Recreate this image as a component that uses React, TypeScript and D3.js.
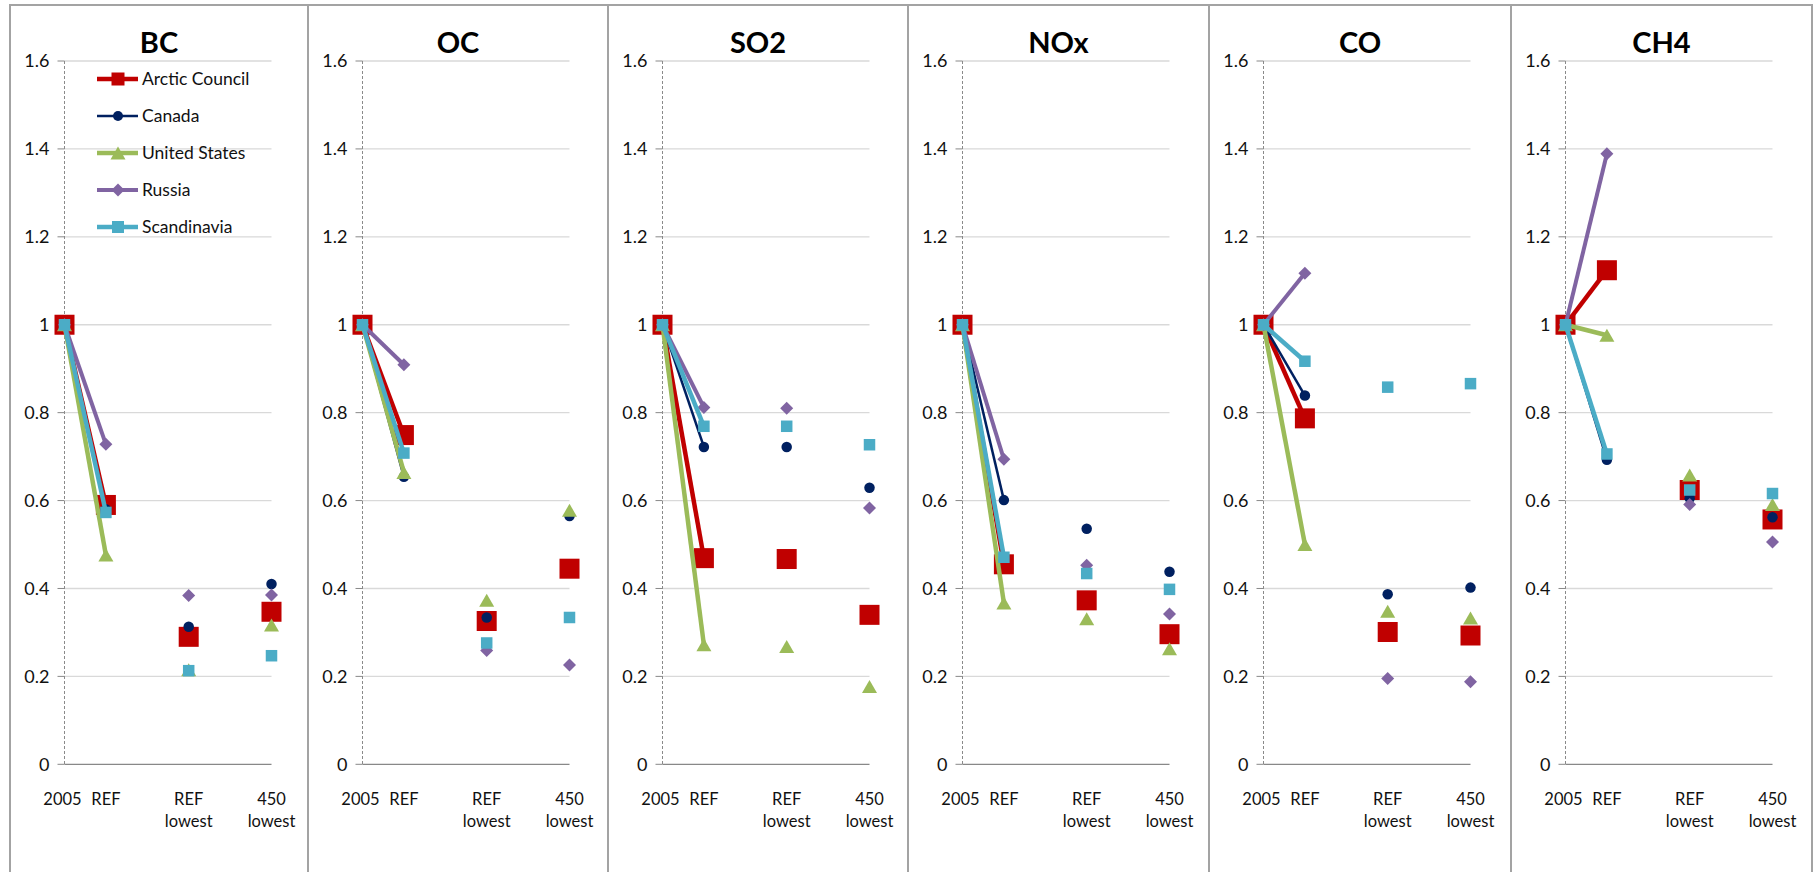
import React from "react";
import * as d3 from "d3";

// Emission ratios relative to 2005, one chart per pollutant
const pollutants = ["BC", "OC", "SO2", "NOx", "CO", "CH4"];
// category slots along the x axis; empty slots break the lines
const categories = ["2005", "REF", "", "REF\nlowest", "", "450\nlowest"];
const valueSlots = [0, 1, 3, 5];
const yTicks = [0, 0.2, 0.4, 0.6, 0.8, 1, 1.2, 1.4, 1.6];

// values per pollutant: [2005, REF, REF lowest, 450 lowest]
const arcticCouncil = [
  [1, 0.59, 0.29, 0.347],
  [1, 0.749, 0.326, 0.445],
  [1, 0.469, 0.467, 0.34],
  [1, 0.455, 0.373, 0.296],
  [1, 0.787, 0.301, 0.293],
  [1, 1.124, 0.624, 0.557],
];
const canada = [
  [1, 0.58, 0.313, 0.41],
  [1, 0.654, 0.334, 0.565],
  [1, 0.722, 0.722, 0.629],
  [1, 0.601, 0.536, 0.438],
  [1, 0.839, 0.387, 0.402],
  [1, 0.693, 0.605, 0.562],
];
const unitedStates = [
  [1, 0.476, 0.215, 0.317],
  [1, 0.664, 0.373, 0.578],
  [1, 0.272, 0.268, 0.177],
  [1, 0.367, 0.331, 0.263],
  [1, 0.5, 0.348, 0.333],
  [1, 0.976, 0.658, 0.591],
];
const russia = [
  [1, 0.728, 0.384, 0.385],
  [1, 0.909, 0.259, 0.226],
  [1, 0.812, 0.81, 0.583],
  [1, 0.694, 0.453, 0.342],
  [1, 1.117, 0.195, 0.188],
  [1, 1.389, 0.591, 0.506],
];
const scandinavia = [
  [1, 0.573, 0.213, 0.247],
  [1, 0.708, 0.276, 0.334],
  [1, 0.769, 0.769, 0.727],
  [1, 0.471, 0.434, 0.398],
  [1, 0.917, 0.858, 0.866],
  [1, 0.706, 0.624, 0.616],
];

type Marker = "square" | "circle" | "triangle" | "diamond";
interface Series {
  name: string;
  values: number[][];
  color: string;
  width: number;
  marker: Marker;
  size: number;
  legendSize: number;
}

const series: Series[] = [
  { name: "Arctic Council", values: arcticCouncil, color: "#C00000", width: 4.5, marker: "square", size: 20, legendSize: 13 },
  { name: "Canada", values: canada, color: "#002060", width: 2.5, marker: "circle", size: 10.5, legendSize: 10 },
  { name: "United States", values: unitedStates, color: "#9BBB59", width: 4.5, marker: "triangle", size: 15, legendSize: 15 },
  { name: "Russia", values: russia, color: "#8064A2", width: 4, marker: "diamond", size: 13, legendSize: 13 },
  { name: "Scandinavia", values: scandinavia, color: "#4BACC6", width: 4.5, marker: "square", size: 11.5, legendSize: 12 },
];

const FONT = "Lato, 'Open Sans', sans-serif";
const panelEdges = [10, 308, 608, 908, 1209, 1511, 1812];
const PANEL_TOP = 5;
const AXIS_OFFSET = 54.5;
const PLOT_WIDTH = 207;

function MarkerShape({ type, x, y, size, color }: { type: Marker; x: number; y: number; size: number; color: string }) {
  const h = size / 2;
  if (type === "square") return <rect x={x - h} y={y - h} width={size} height={size} fill={color} />;
  if (type === "circle") return <circle cx={x} cy={y} r={h} fill={color} />;
  if (type === "triangle") {
    const th = size * 0.87;
    return <path d={`M${x},${y - th / 2}L${x + h},${y + th / 2}L${x - h},${y + th / 2}Z`} fill={color} />;
  }
  return <path d={`M${x},${y - h}L${x + h},${y}L${x},${y + h}L${x - h},${y}Z`} fill={color} />;
}

function Panel({ index }: { index: number }) {
  const left = panelEdges[index];
  const right = panelEdges[index + 1];
  const x0 = left + AXIS_OFFSET;
  const x = d3.scalePoint<number>().domain(d3.range(categories.length)).range([x0, x0 + PLOT_WIDTH]);
  const y = d3.scaleLinear().domain([0, 1.6]).range([764.3, 61]);
  const line = d3
    .line<number | null>()
    .defined((d) => d !== null)
    .x((_, i) => x(i) as number)
    .y((d) => y(d as number));

  return (
    <g>
      <rect x={left} y={PANEL_TOP} width={right - left} height={900} fill="white" stroke="#a3a3a3" strokeWidth={2} />
      <text x={(left + right) / 2} y={53} textAnchor="middle" fontFamily={FONT} fontWeight={700} fontSize={29}>
        {pollutants[index]}
      </text>
      {yTicks.map((t) => (
        <g key={t}>
          {t > 0 && <line x1={x0} x2={x0 + PLOT_WIDTH} y1={y(t)} y2={y(t)} stroke="#d9d9d9" strokeWidth={1.3} />}
          <line x1={x0 - 7} x2={x0} y1={y(t)} y2={y(t)} stroke="#888" strokeWidth={1} />
          <text x={x0 - 15} y={y(t)} dy="0.36em" textAnchor="end" fontFamily={FONT} fontSize={18} fill="#111">
            {String(t)}
          </text>
        </g>
      ))}
      <line x1={x0} x2={x0 + PLOT_WIDTH} y1={y(0)} y2={y(0)} stroke="#888" strokeWidth={1.2} />
      <line x1={x0} x2={x0} y1={y(1.6)} y2={y(0)} stroke="#8a8a8a" strokeWidth={1} strokeDasharray="3,2" />
      {categories.map((c, i) => {
        if (!c) return null;
        // first label sits a touch left of the axis
        const cx = (x(i) as number) - (i === 0 ? 2 : 0);
        return (
          <text key={i} x={cx} y={805} textAnchor="middle" fontFamily={FONT} fontSize={16.5} fill="#111">
            {c.split("\n").map((part, j) => (
              <tspan key={j} x={cx} dy={j === 0 ? 0 : 22}>
                {part}
              </tspan>
            ))}
          </text>
        );
      })}
      {series.map((s) => {
        const vals = s.values[index];
        const slots: (number | null)[] = categories.map(() => null);
        valueSlots.forEach((slot, k) => (slots[slot] = vals[k]));
        return (
          <g key={s.name}>
            <path d={line(slots) || ""} fill="none" stroke={s.color} strokeWidth={s.width} strokeLinejoin="round" />
            {valueSlots.map((slot, k) => (
              <MarkerShape key={k} type={s.marker} x={x(slot) as number} y={y(vals[k])} size={s.size} color={s.color} />
            ))}
          </g>
        );
      })}
    </g>
  );
}

function Legend({ left }: { left: number }) {
  const rowY = d3.scaleLinear().domain([0, series.length - 1]).range([79, 227]);
  return (
    <g>
      {series.map((s, i) => {
        const yy = rowY(i);
        return (
          <g key={s.name}>
            <line x1={left + 87} x2={left + 128} y1={yy} y2={yy} stroke={s.color} strokeWidth={s.width} />
            <MarkerShape type={s.marker} x={left + 108} y={yy} size={s.legendSize} color={s.color} />
            <text x={left + 132} y={yy} dy="0.36em" fontFamily={FONT} fontSize={17.5} fill="#111">
              {s.name}
            </text>
          </g>
        );
      })}
    </g>
  );
}

export default function App() {
  return (
    <svg width={1816} height={872} style={{ position: "absolute", left: 0, top: 0, background: "white" }}>
      <rect width={1816} height={872} fill="white" />
      {pollutants.map((p, i) => (
        <Panel key={p} index={i} />
      ))}
      <Legend left={panelEdges[0]} />
    </svg>
  );
}
